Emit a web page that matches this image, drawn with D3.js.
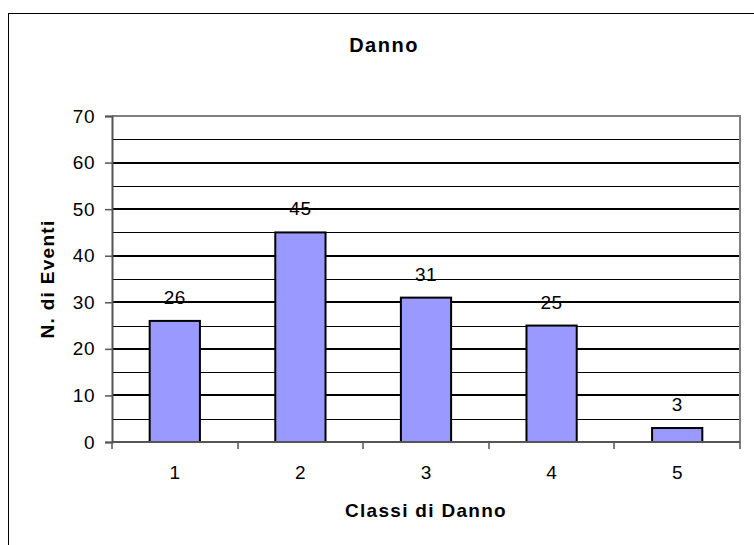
<!DOCTYPE html>
<html>
<head>
<meta charset="utf-8">
<script src="https://cdn.jsdelivr.net/npm/d3@7"></script>
<style>
  html, body { margin: 0; padding: 0; background: #fff; }
  svg { display: block; font-family: Arial, "Liberation Sans", sans-serif; }
</style>
</head>
<body>
<svg id="chart" width="754" height="545"></svg>
<script>
// Damage classes and event counts
const categories = ["1", "2", "3", "4", "5"];
const values = [26, 45, 31, 25, 3];
const majorTicks = [0, 10, 20, 30, 40, 50, 60, 70];
const minorTicks = [5, 15, 25, 35, 45, 55, 65];
const titleText = "Danno";
const xTitle = "Classi di Danno";
const yTitle = "N. di Eventi";

const svg = d3.select("#chart");
const plot = { left: 112, right: 740, top: 116, bottom: 442 };

// Outer chart frame (extends past the window on the right and bottom)
svg.append("rect")
  .attr("x", 8.5).attr("y", 13.5)
  .attr("width", 800).attr("height", 600)
  .attr("fill", "#fff").attr("stroke", "#000").attr("stroke-width", 1);

const x = d3.scaleBand().domain(categories).range([plot.left, plot.right]).paddingInner(0.6).paddingOuter(0.3);
const xEdges = d3.scaleLinear().domain([0, categories.length]).range([plot.left, plot.right]);
const y = d3.scaleLinear().domain([0, 70]).range([plot.bottom, plot.top]);

// Minor gridlines
svg.append("g").selectAll("line").data(minorTicks).join("line")
  .attr("x1", plot.left).attr("x2", plot.right)
  .attr("y1", d => Math.round(y(d)) + 0.5).attr("y2", d => Math.round(y(d)) + 0.5)
  .attr("stroke", "#000").attr("stroke-width", 1);

// Major gridlines
svg.append("g").selectAll("line").data(majorTicks.filter(d => d > 0 && d < 70)).join("line")
  .attr("x1", plot.left).attr("x2", plot.right)
  .attr("y1", d => Math.round(y(d))).attr("y2", d => Math.round(y(d)))
  .attr("stroke", "#000").attr("stroke-width", 2);

// Plot area border (top and right)
svg.append("path")
  .attr("d", `M${plot.left},${y(70)}H${plot.right}V${plot.bottom}`)
  .attr("fill", "none").attr("stroke", "#808080").attr("stroke-width", 2);

// Bars
svg.append("g").selectAll("rect").data(values).join("rect")
  .attr("x", (d, i) => x(categories[i]))
  .attr("y", d => y(d))
  .attr("width", x.bandwidth())
  .attr("height", d => y(0) - y(d))
  .attr("fill", "#9999FF").attr("stroke", "#000").attr("stroke-width", 2);

// Value labels
svg.append("g").selectAll("text").data(values).join("text")
  .attr("x", (d, i) => x(categories[i]) + x.bandwidth() / 2)
  .attr("y", d => y(d) - 17)
  .attr("text-anchor", "middle")
  .attr("font-size", 19).attr("letter-spacing", 0.5)
  .attr("fill", "#000")
  .text(d => d);

// Y axis
const yAxis = svg.append("g")
  .attr("transform", `translate(${plot.left},0)`)
  .call(d3.axisLeft(y).tickValues(majorTicks).tickSize(7).tickPadding(10).tickFormat(d3.format("d")));
yAxis.select(".domain").attr("stroke", "#555").attr("stroke-width", 2);
yAxis.selectAll(".tick line").attr("stroke", "#555").attr("stroke-width", 1.5);
yAxis.selectAll(".tick text").attr("font-size", 19).attr("font-family", "Arial, 'Liberation Sans', sans-serif").attr("fill", "#000").attr("letter-spacing", 0.5);

// X axis: baseline, boundary ticks, category labels
svg.append("line")
  .attr("x1", plot.left).attr("x2", plot.right)
  .attr("y1", plot.bottom).attr("y2", plot.bottom)
  .attr("stroke", "#555").attr("stroke-width", 2);
svg.append("g").selectAll("line").data(d3.range(categories.length + 1)).join("line")
  .attr("x1", d => Math.round(xEdges(d))).attr("x2", d => Math.round(xEdges(d)))
  .attr("y1", plot.bottom).attr("y2", plot.bottom + 7)
  .attr("stroke", "#555").attr("stroke-width", 1.5);
svg.append("g").selectAll("text").data(categories).join("text")
  .attr("x", d => x(d) + x.bandwidth() / 2)
  .attr("y", 479)
  .attr("text-anchor", "middle")
  .attr("font-size", 19)
  .text(d => d);

// Titles
svg.append("text")
  .attr("x", 384).attr("y", 52)
  .attr("text-anchor", "middle")
  .attr("font-size", 20).attr("font-weight", "bold").attr("letter-spacing", 1.5)
  .text(titleText);

svg.append("text")
  .attr("x", (plot.left + plot.right) / 2).attr("y", 517)
  .attr("text-anchor", "middle")
  .attr("font-size", 19).attr("font-weight", "bold").attr("letter-spacing", 1.3)
  .text(xTitle);

svg.append("text")
  .attr("transform", `translate(54,${(plot.top + plot.bottom) / 2}) rotate(-90)`)
  .attr("text-anchor", "middle")
  .attr("font-size", 19).attr("font-weight", "bold").attr("letter-spacing", 1.3)
  .text(yTitle);
</script>
</body>
</html>
